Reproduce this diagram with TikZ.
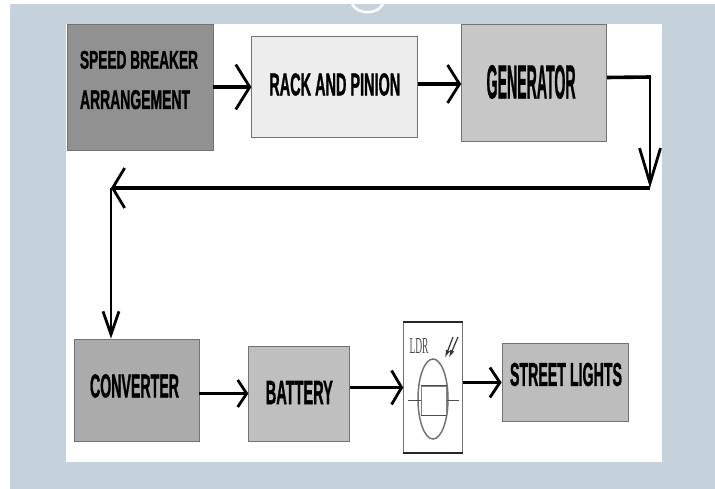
\documentclass[tikz,border=0pt]{standalone}
\usepackage{fontspec}
\setmainfont{Liberation Sans}[BoldFeatures={FakeBold=1.6}]
\newfontfamily\ldrfont{Liberation Serif}
\usetikzlibrary{arrows.meta,positioning,shapes.geometric}
\definecolor{backblue}{HTML}{C6D2DB}
\newcommand{\squeezed}[3]{\resizebox{#1pt}{#2pt}{\bfseries #3}}
\tikzset{
  block/.style={draw=black!55,line width=0.8pt,inner sep=0pt},
  caption/.style={inner sep=0pt,align=left,text=black},
  thickflow/.style={line width=3.6pt,draw=black},
  thinflow/.style={line width=1.8pt,draw=black},
  tip/.style n args={2}{-{Straight Barb[length=#1pt,width=#2pt,line width=2.8pt]}}
}
\begin{document}
\begin{tikzpicture}[x=1pt,y=-1pt]
      \useasboundingbox (0,0) rectangle (715,489);
      \fill[white] (0,0) rectangle (715,489);
      \fill[backblue] (10,4) rectangle (715,489);
      \fill[white] (66,24) rectangle (662,462);
      \draw[white,line width=2.5pt] (352,4) .. controls (358,15) and (377,15) .. (383,4);
      \node[block,fill=black!43,minimum width=146pt,minimum height=126pt] (speed) at (140,87) {};
      \node[block,fill=black!7,minimum width=166pt,minimum height=101pt,right=38pt of speed] (rack) {};
      \node[block,fill=black!22,minimum width=145pt,minimum height=117pt,right=43pt of rack,yshift=4pt] (gen) {};
      \node[block,fill=black!33,minimum width=125pt,minimum height=102pt] (conv) at (136.5,390) {};
      \node[block,fill=black!25,minimum width=101pt,minimum height=95pt,right=49pt of conv,yshift=-3.5pt] (battery) {};
      \node[draw=black!55,fill=white,inner sep=0pt,minimum width=59pt,minimum height=131pt,right=53pt of battery,yshift=6pt] (ldr) {};
      \node[block,fill=black!26,minimum width=126pt,minimum height=78pt,right=39pt of ldr,yshift=5pt] (street) {};
      \node[caption,xshift=-1pt,yshift=7pt] (speedtext) at (speed) {\squeezed{118}{18}{SPEED BREAKER}\\[20pt]\squeezed{110}{19}{ARRANGEMENT}};
      \node[caption,yshift=2.5pt] (racktext) at (rack) {\squeezed{131}{22}{RACK AND PINION}};
      \node[caption,xshift=-3pt,yshift=1pt] (gentext) at (gen) {\squeezed{89}{33}{GENERATOR}};
      \node[caption,xshift=-2pt,yshift=4pt] (convtext) at (conv) {\squeezed{89}{23}{CONVERTER}};
      \node[caption,yshift=1pt] (batterytext) at (battery) {\squeezed{67}{23}{BATTERY}};
      \node[caption,xshift=1pt,yshift=8pt] (streettext) at (street) {\squeezed{112}{23}{STREET LIGHTS}};
      % ldr symbol
      \draw[black!85,line width=2.2pt] (ldr.north west)--(ldr.north east);
      \draw[black!85,line width=2.2pt] (ldr.south west)--(ldr.south east);
      \node[draw=black!55,line width=1.5pt,ellipse,inner sep=0pt,minimum width=30pt,minimum height=80pt] (cell) at (433,399) {};
      \node[draw=black!50,line width=1pt,inner sep=0pt,minimum width=25pt,minimum height=29pt] (plate) at (433.5,400.5) {};
      \draw[black!70,line width=1.4pt] (plate.north west)--(plate.north east);
      \draw[black!70,line width=1.4pt] (plate.south west)--(plate.south east);
      \coordinate[left=13pt of plate] (leadl);
      \coordinate[right=12pt of plate] (leadr);
      \draw[black!70,line width=1pt] (leadl)--(plate);
      \draw[black!70,line width=1pt] (plate)--(leadr);
      \node[inner sep=0pt,text=black!70] (ldrtext) at (419,346) {\resizebox{19pt}{15pt}{\ldrfont LDR}};
      \coordinate (raya) at (453,337);
      \coordinate (rayb) at (458,337);
      \coordinate (rayaend) at (445,358);
      \coordinate (raybend) at (449,358);
      \draw[-{Latex[length=8pt,width=4.5pt]},black!80,line width=1.2pt] (raya)--(rayaend);
      \draw[-{Latex[length=8pt,width=4.5pt]},black!80,line width=1.2pt] (rayb)--(raybend);
      % connectors
      \coordinate (corner) at (650,77);
      \coordinate (turn) at (650,188);
      \coordinate (bend) at (111,188);
      \draw[thickflow] ([yshift=5.5pt]gen.east)--([xshift=1pt]corner);
      \draw[thinflow,tip={35}{21}] (corner)--(turn);
      \draw[thickflow,tip={14}{45}] (speed)--(rack);
      \draw[thickflow,tip={12}{38}] ([yshift=3pt]rack.east)--([yshift=-1pt]gen.west);
      \draw[thickflow,tip={12}{40}] (turn)--(bend);
      \draw[thinflow,tip={23}{16}] (bend)--(bend |- conv.north);
      \draw[thickflow,tip={9}{27}] (conv.east |- battery.west)--(battery.west);
      \draw[thickflow,tip={10}{34}] (battery.east |- ldr.west)--(ldr.west);
      \draw[thickflow,tip={10}{30}] (ldr.east |- street.west)--(street.west);
    \end{tikzpicture}
\end{document}
